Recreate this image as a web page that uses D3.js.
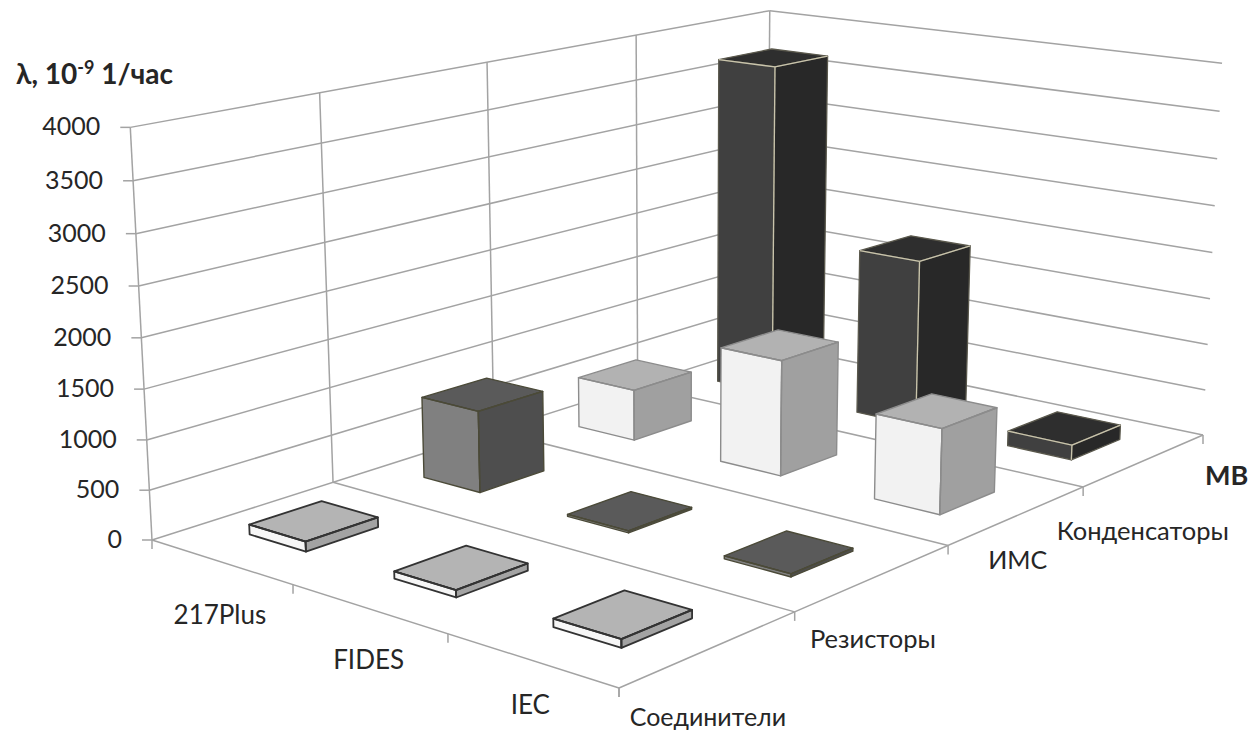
<!DOCTYPE html>
<html lang="ru">
<head>
<meta charset="utf-8">
<title>λ по моделям</title>
<script src="https://cdnjs.cloudflare.com/ajax/libs/d3/7.8.5/d3.min.js"></script>
<style>
  html, body { margin: 0; background: #fff; }
  text { font-family: Lato, "Open Sans", sans-serif; fill: #262626; }
</style>
</head>
<body>
<svg id="chart" width="1251" height="731"></svg>
<script>
// Reliability data: failure rate per reliability model and component group
const models = ["217Plus", "FIDES", "IEC"];
const groups = ["Соединители", "Резисторы", "ИМС", "Конденсаторы"];
const connectors = [100, 70, 80];
const resistors = [850, 20, 30];
const ics = [550, 1220, 880];
const capacitors = [3700, 1820, 160];
const seriesValues = [connectors, resistors, ics, capacitors];
const valueTicks = [0, 500, 1000, 1500, 2000, 2500, 3000, 3500, 4000];

// Face colours per component group; "inner" is the colour of the edges facing the viewer
const faceStyles = [
  { front: "#f6f6f6", side: "#a3a3a3", top: "#b4b4b4", edge: "#333333", inner: "#333333", width: 1.8 },
  { front: "#808080", side: "#4e4e4e", top: "#5a5a5a", edge: "#4b4a38", inner: "#4b4a38", width: 1.4 },
  { front: "#f2f2f2", side: "#a0a0a0", top: "#b2b2b2", edge: "#8c8c8c", inner: "#8c8c8c", width: 1.4 },
  { front: "#404040", side: "#282828", top: "#2e2e2e", edge: "#5a584c", inner: "#c9c4ac", width: 1.3 }
];

// Box corners on screen: floor, then the same corners at the top of the value range
const floorFrame = [[152, 540], [619, 688], [1203, 435], [767, 344]];
const topFrame = [[130, 125], [770, 11], [1222, 65]];

function solve(A, b) {
  const n = b.length, m = A.map((r, i) => [...r, b[i]]);
  for (let c = 0; c < n; c++) {
    let p = c;
    for (let r = c + 1; r < n; r++) if (Math.abs(m[r][c]) > Math.abs(m[p][c])) p = r;
    [m[c], m[p]] = [m[p], m[c]];
    for (let r = 0; r < n; r++) {
      if (r === c) continue;
      const f = m[r][c] / m[c][c];
      for (let k = c; k <= n; k++) m[r][k] -= f * m[c][k];
    }
  }
  return m.map((r, i) => r[n] / r[i]);
}

// Floor homography: unit square (u, v) to screen
const floorUV = [[0, 0], [1, 0], [1, 1], [0, 1]];
const hRows = [], hRhs = [];
floorUV.forEach(([u, v], i) => {
  const [x, y] = floorFrame[i];
  hRows.push([u, v, 1, 0, 0, 0, -u * x, -v * x]); hRhs.push(x);
  hRows.push([0, 0, 0, u, v, 1, -u * y, -v * y]); hRhs.push(y);
});
const h = solve(hRows, hRhs);
const floorPoint = (u, v) => [
  h[0] * u + h[1] * v + h[2],
  h[3] * u + h[4] * v + h[5],
  h[6] * u + h[7] * v + 1
];

// Height column of the camera matrix, least-squares fit to the three top corners
const topUV = [[0, 0], [0, 1], [1, 1]];
const zRows = [], zRhs = [];
topUV.forEach(([u, v], i) => {
  const [x, y] = topFrame[i];
  const [ax, ay, aw] = floorPoint(u, v);
  zRows.push([1, 0, -x]); zRhs.push(x * aw - ax);
  zRows.push([0, 1, -y]); zRhs.push(y * aw - ay);
});
const ata = [0, 1, 2].map(i => [0, 1, 2].map(j => d3.sum(zRows, r => r[i] * r[j])));
const atb = [0, 1, 2].map(i => d3.sum(zRows, (r, k) => r[i] * zRhs[k]));
const pz = solve(ata, atb);

function project(u, v, t) {
  const [ax, ay, aw] = floorPoint(u, v);
  const w = aw + t * pz[2];
  return [(ax + t * pz[0]) / w, (ay + t * pz[1]) / w];
}

// Scales from data to box coordinates
const zScale = d3.scaleLinear().domain([0, 4000]).range([0, 1]);
const uScale = d3.scaleBand().domain(models).range([0, 1]).paddingInner(0.6).paddingOuter(0.3);
const vScale = d3.scaleBand().domain(groups).range([0, 1]).paddingInner(0.6).paddingOuter(0.3);
const uEdges = d3.scalePoint().domain(d3.range(models.length + 1)).range([0, 1]);
const vEdges = d3.scalePoint().domain(d3.range(groups.length + 1)).range([0, 1]);

const svg = d3.select("#chart");
const wallColor = "#a3a3a3";
const line = d3.line();
const closed = d3.line().curve(d3.curveLinearClosed);
const segment = (g, a, b, color = wallColor, width = 1.5) =>
  g.append("path").attr("d", line([a, b])).attr("fill", "none")
    .attr("stroke", color).attr("stroke-width", width);

// Walls and floor
const grid = svg.append("g").attr("class", "grid");
valueTicks.forEach(val => {
  const t = zScale(val);
  if (t > 0) {
    segment(grid, project(0, 0, t), project(0, 1, t));
    segment(grid, project(0, 1, t), project(1, 1, t));
  }
});
vEdges.domain().forEach(i => {
  const v = vEdges(i);
  segment(grid, project(0, v, 0), project(0, v, 1));
  segment(grid, project(0, v, 0), project(1, v, 0));
});
segment(grid, project(0, 0, 0), project(0, 1, 0));
segment(grid, project(1, 0, 0), project(1, 1, 0));

// Axis ticks
const ticks = svg.append("g").attr("class", "ticks");
valueTicks.forEach(val => {
  const p = project(0, 0, zScale(val));
  segment(ticks, [p[0] - 10, p[1]], p);
});
uEdges.domain().forEach(i => {
  const p = project(uEdges(i), 0, 0);
  segment(ticks, p, [p[0], p[1] + 9]);
});
vEdges.domain().forEach(i => {
  const p = project(1, vEdges(i), 0);
  segment(ticks, p, [p[0], p[1] + 9]);
});

// Bars, painted from the back corner towards the viewer
const bars = svg.append("g").attr("class", "bars");
d3.range(groups.length - 1, -1, -1).forEach(si => {
  const style = faceStyles[si];
  const v0 = vScale(groups[si]), v1 = v0 + vScale.bandwidth();
  models.forEach((model, mi) => {
    const u0 = uScale(model), u1 = u0 + uScale.bandwidth();
    const t = zScale(seriesValues[si][mi]);
    const faces = [
      [style.top, [[u0, v0, t], [u1, v0, t], [u1, v1, t], [u0, v1, t]]],
      [style.front, [[u0, v0, 0], [u1, v0, 0], [u1, v0, t], [u0, v0, t]]],
      [style.side, [[u1, v0, 0], [u1, v1, 0], [u1, v1, t], [u1, v0, t]]]
    ];
    const bar = bars.append("g").attr("data-group", groups[si]).attr("data-model", model);
    faces.forEach(([fill, pts]) => {
      bar.append("path")
        .attr("d", closed(pts.map(p => project(...p))))
        .attr("fill", fill).attr("stroke", style.edge)
        .attr("stroke-width", style.width).attr("stroke-linejoin", "round");
    });
    // Edges meeting at the corner nearest the viewer
    const corner = project(u1, v0, t);
    [project(u0, v0, t), project(u1, v1, t), project(u1, v0, 0)].forEach(end =>
      segment(bar, corner, end, style.inner, style.width));
  });
});

// Text
const labels = svg.append("g").attr("class", "labels").attr("font-size", 25);
valueTicks.forEach(val => {
  const p = project(0, 0, zScale(val));
  labels.append("text").text(val).attr("x", p[0] - 30).attr("y", p[1] + 8).attr("text-anchor", "end");
});
const modelDrop = [53, 51, 45];
const modelShift = [-1, 0, -1];
models.forEach((name, i) => {
  const p = project(uScale(name) + uScale.bandwidth() / 2, 0, 0);
  labels.append("text").text(name).attr("x", p[0] + modelShift[i]).attr("y", p[1] + modelDrop[i] + 9)
    .attr("text-anchor", "middle").attr("font-size", 26);
});
const groupDrop = [69, 62, 46, 72];
const groupShift = [-2, -1, 0, -2];
const groupSize = [25, 25.5, 25, 25.5];
groups.forEach((name, i) => {
  const p = project(1, vScale(name) + vScale.bandwidth() / 2, 0);
  labels.append("text").text(name).attr("x", p[0] + groupShift[i]).attr("y", p[1] + groupDrop[i] + 8)
    .attr("text-anchor", "middle").attr("font-size", groupSize[i]);
});

const title = svg.append("text").attr("x", 16).attr("y", 84)
  .attr("font-size", 28).attr("font-weight", 700);
title.append("tspan").text("λ, 10");
title.append("tspan").text("-9").attr("font-size", 18).attr("dy", -10);
title.append("tspan").text(" 1/час").attr("dy", 10);

svg.append("text").text("МВ").attr("x", 1205).attr("y", 485)
  .attr("font-size", 27).attr("font-weight", 700);
</script>
</body>
</html>
